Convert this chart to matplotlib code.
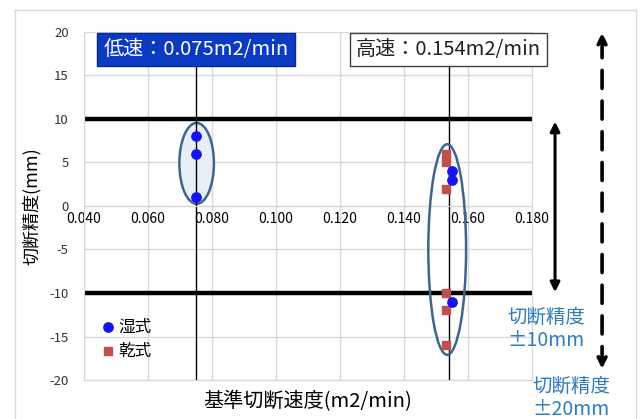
import matplotlib
matplotlib.use("Agg")
import matplotlib.pyplot as plt
from matplotlib.patches import Ellipse
from matplotlib.lines import Line2D

plt.rcParams['font.family'] = ['Noto Sans CJK JP', 'DejaVu Sans']

# data
speeds = [0.075, 0.154]
speed_labels = ['低速：0.075m2/min', '高速：0.154m2/min']
wet_x = [0.075, 0.075, 0.075, 0.155, 0.155, 0.155]
wet_y = [8, 6, 1, 4, 3, -11]
dry_x = [0.153, 0.153, 0.153, 0.153, 0.153, 0.153]
dry_y = [6, 5, 2, -10, -12, -16]
tol_small = 10
tol_large = 20
x_ticks = [0.04, 0.06, 0.08, 0.10, 0.12, 0.14, 0.16, 0.18]
y_ticks = [20, 15, 10, 5, 0, -5, -10, -15, -20]

grid_c = '#d9d9d9'
blue_txt = '#2e7dc0'

fig = plt.figure(figsize=(6.44, 4.19), dpi=100)
ax = fig.add_axes([84 / 644, 1 - 380 / 419, 448 / 644, 348 / 419])

# outer frame
for xs, ys in [([15, 636], [10, 10]), ([15, 15], [10, 419]), ([636, 636], [10, 419])]:
    fig.add_artist(Line2D([x / 644 for x in xs], [1 - y / 419 for y in ys],
                          color=grid_c, lw=1, transform=fig.transFigure))

ax.set_xlim(0.04, 0.18)
ax.set_ylim(-20, 20)
ax.set_xticks(x_ticks)
ax.set_xticklabels([f'{v:.3f}' for v in x_ticks], fontsize=8.3, color='#595959')
ax.set_yticks(y_ticks)
ax.set_yticklabels([str(v) for v in y_ticks], fontsize=9.5, color='#333333')
ax.tick_params(length=0)
ax.tick_params(axis='x', pad=4)
ax.tick_params(axis='y', pad=11)
ax.grid(True, color=grid_c, lw=1)
ax.set_axisbelow(True)
for s in ax.spines.values():
    s.set_color(grid_c)
ax.spines['bottom'].set_position(('data', 0))
ax.axhline(-20, color=grid_c, lw=1, clip_on=False, zorder=0)

# tolerance lines
for v in (tol_small, -tol_small):
    ax.axhline(v, color='black', lw=3.2, zorder=2)

# speed markers
ax.vlines(speeds, -20, 16.3, color='black', lw=1, zorder=2)

# ellipses
ax.add_patch(Ellipse((0.0752, 4.9), 0.0108, 9.3, facecolor='#e8eef6',
                     edgecolor='#41648c', lw=1.8, zorder=1.5))
ax.add_patch(Ellipse((0.1535, -5.0), 0.0118, 24.2, facecolor='none',
                     edgecolor='#41648c', lw=1.8, zorder=3))

ax.scatter(wet_x, wet_y, s=45, marker='o', color='#1414f0', zorder=5, label='湿式')
ax.scatter(dry_x, dry_y, s=40, marker='s', color='#c0504d', zorder=4, label='乾式')

# speed labels
ax.text(speeds[0], 18.0, speed_labels[0], ha='center', va='center', fontsize=14.5,
        color='white', zorder=6,
        bbox=dict(boxstyle='square,pad=0.3', facecolor='#0b3bc2', edgecolor='#0a2a8a', lw=1))
ax.text(speeds[1], 18.0, speed_labels[1], ha='center', va='center', fontsize=14.5,
        color='#222222', zorder=6, clip_on=False,
        bbox=dict(boxstyle='square,pad=0.3', facecolor='white', edgecolor='#404040', lw=1))

ax.set_ylabel('切断精度(mm)', fontsize=13, labelpad=6)
ax.set_xlabel('基準切断速度(m2/min)', fontsize=14.5, labelpad=4)
ax.xaxis.set_label_coords(0.5, -0.03)

leg = ax.legend(loc='lower left', bbox_to_anchor=(0.02, 0.04), frameon=False,
                fontsize=12, handletextpad=0.1, handlelength=1.0, labelspacing=0.4,
                borderaxespad=0)

# tolerance arrows at the right
arr = dict(arrowstyle='<|-|>', color='black', lw=2.2, mutation_scale=14, shrinkA=0, shrinkB=0)
ax.annotate('', xy=(0.1872, 9.7), xytext=(0.1872, -9.9), arrowprops=arr,
            annotation_clip=False)
arr2 = dict(arr, linestyle=(0, (5, 3.5)), lw=2.6)
ax.annotate('', xy=(0.2019, 19.9), xytext=(0.2019, -18.7), arrowprops=arr2,
            annotation_clip=False)

fig.text(546 / 644, 1 - 329 / 419, f'切断精度\n±{tol_small}mm', ha='center', va='center',
         fontsize=14, color=blue_txt, linespacing=1.15)
fig.text(571 / 644, 1 - 398 / 419, f'切断精度\n±{tol_large}mm', ha='center', va='center',
         fontsize=14, color=blue_txt, linespacing=1.15)

fig.savefig('out.png', dpi=100)
